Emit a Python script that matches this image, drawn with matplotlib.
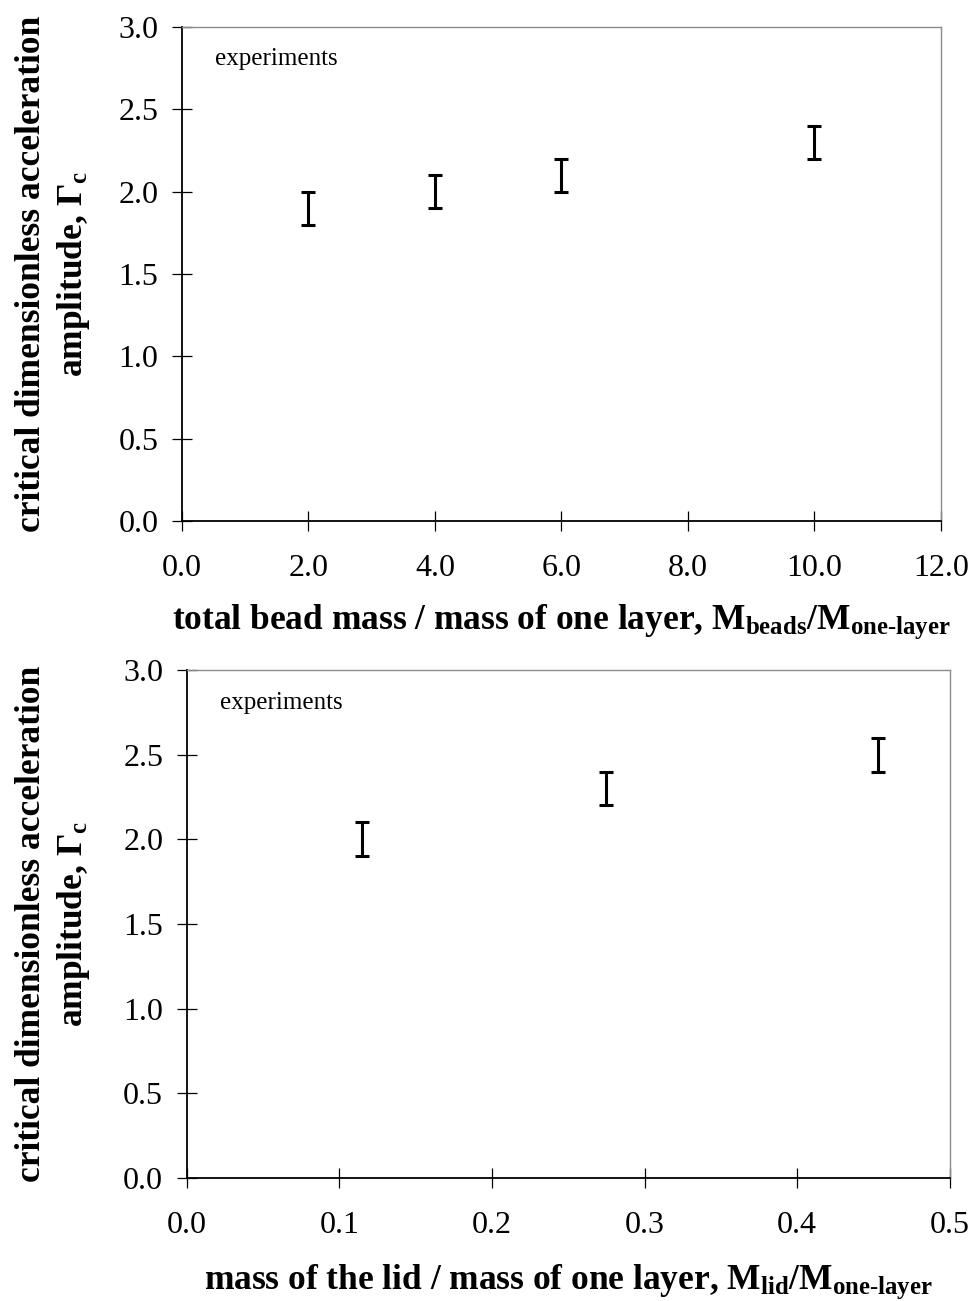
import numpy as np
import matplotlib
matplotlib.use("Agg")
import matplotlib.pyplot as plt

plt.rcParams['font.family'] = ['Liberation Serif', 'DejaVu Serif']
plt.rcParams['mathtext.fontset'] = 'custom'
plt.rcParams['mathtext.rm'] = 'Liberation Serif'
plt.rcParams['mathtext.bf'] = 'Liberation Serif:bold'
plt.rcParams['mathtext.it'] = 'Liberation Serif:italic'

# top panel: total bead mass
bead_mass = [2.0, 4.0, 6.0, 10.0]
bead_gamma = [1.9, 2.0, 2.1, 2.3]
bead_err = [0.1, 0.1, 0.1, 0.1]

# bottom panel: lid mass
lid_mass = [0.115, 0.275, 0.453]
lid_gamma = [2.0, 2.3, 2.5]
lid_err = [0.1, 0.1, 0.1]

top_xticks = [0, 2, 4, 6, 8, 10, 12]
bot_xticks = [0.0, 0.1, 0.2, 0.3, 0.4, 0.5]
yticks = [0.0, 0.5, 1.0, 1.5, 2.0, 2.5, 3.0]

ylab = 'critical dimensionless acceleration\namplitude, $\\mathbf{\\Gamma_c}$'
xlab_top = ('total bead mass / mass of one layer, '
            '$\\mathbf{M_{beads}/M_{one\\text{-}layer}}$')
xlab_bot = ('mass of the lid / mass of one layer, '
            '$\\mathbf{M_{lid}/M_{one\\text{-}layer}}$')

fig = plt.figure(figsize=(9.73, 13.01), dpi=100)
ax1 = fig.add_axes([0.187, 0.5995, 0.780, 0.3797])
ax2 = fig.add_axes([0.192, 0.0945, 0.784, 0.3905])


def style(ax, xs, ys, es, xticks, xlim, xlab, ylab_x, xlab_y):
    ax.errorbar(xs, ys, yerr=es, fmt='none', ecolor='black',
                elinewidth=2.2, capsize=5, capthick=2.2)
    ax.set_xlim(*xlim)
    ax.set_ylim(0, 3.0)
    ax.set_xticks(xticks)
    ax.set_xticklabels(['{:.1f}'.format(v) for v in xticks])
    ax.set_yticks(yticks)
    ax.set_yticklabels(['{:.1f}'.format(v) for v in yticks])
    ax.tick_params(direction='inout', length=14, width=0.9, labelsize=23,
                   colors='black')
    ax.tick_params(axis='x', pad=17)
    ax.tick_params(axis='y', pad=10)
    for s in ['top', 'right']:
        ax.spines[s].set_color('#8c8c8c')
        ax.spines[s].set_linewidth(1.0)
    for s in ['left', 'bottom']:
        ax.spines[s].set_color('black')
        ax.spines[s].set_linewidth(1.3)
    ax.text(0.043, 0.935, 'experiments', transform=ax.transAxes,
            fontsize=18, va='center', ha='left')
    ax.set_xlabel(xlab, fontsize=25.5, fontweight='bold')
    ax.xaxis.label.set_va('center')
    ax.xaxis.set_label_coords(0.5, xlab_y)
    ax.set_ylabel(ylab, fontsize=25.5, fontweight='bold', linespacing=1.25)
    ax.yaxis.set_label_coords(ylab_x, 0.5)


style(ax1, bead_mass, bead_gamma, bead_err, top_xticks, (0, 12),
      xlab_top, -0.1186, -0.204)
style(ax2, lid_mass, lid_gamma, lid_err, bot_xticks, (0, 0.5),
      xlab_bot, -0.1245, -0.204)

fig.savefig('out.png', dpi=100)
